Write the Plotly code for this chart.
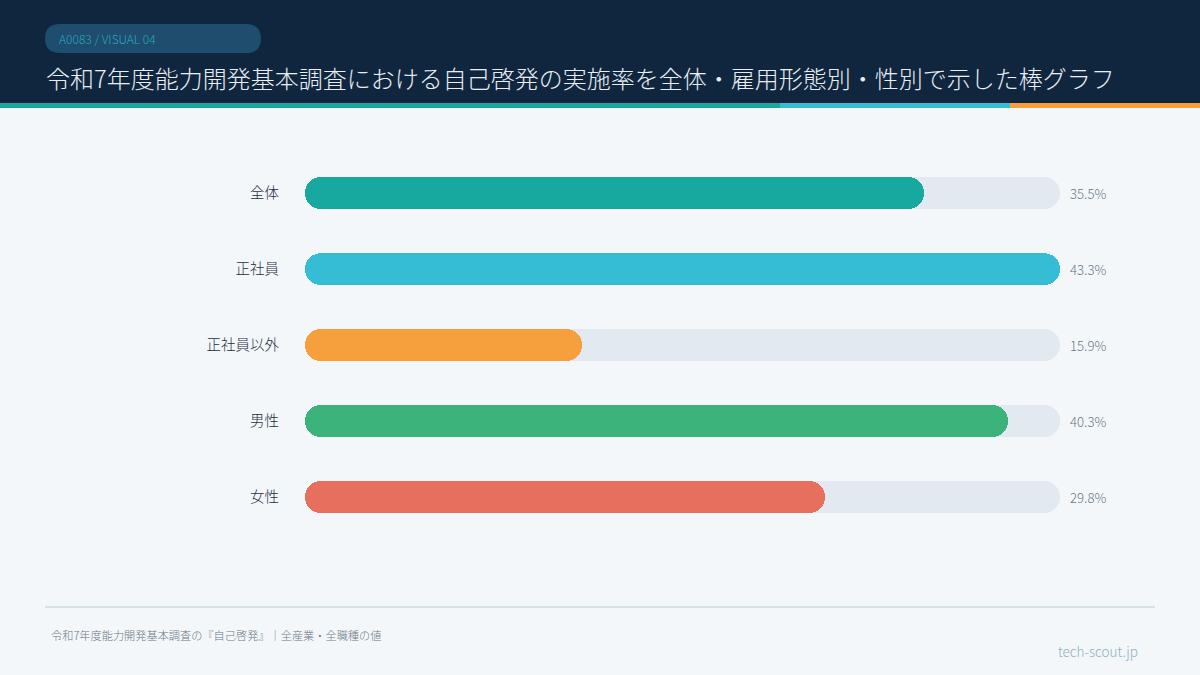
import plotly.graph_objects as go

categories = ["全体", "正社員", "正社員以外", "男性", "女性"]
values = [35.5, 43.3, 15.9, 40.3, 29.8]
bar_colors = ["#17a99f", "#35bdd6", "#f59f3d", "#3cb37b", "#e6705d"]
value_labels = ["35.5%", "43.3%", "15.9%", "40.3%", "29.8%"]

title_text = "令和7年度能力開発基本調査における自己啓発の実施率を全体・雇用形態別・性別で示した棒グラフ"
badge_text = "A0083 / VISUAL 04"
footer_text = "令和7年度能力開発基本調査の『自己啓発』｜全産業・全職種の値"
brand_text = "tech-scout.jp"

W, H = 1200, 675
L, R, T, B = 305, 140, 155, 140
PW, PH = W - L - R, H - T - B
FONT = "Noto Sans CJK JP Light, Noto Sans CJK JP, sans-serif"

def px(x):
    return (x - L) / PW

def py(y):
    return (H - B - y) / PH

vmax = max(values)
bw = 0.41

fig = go.Figure()

def pill(vals, color, name):
    # two overlapping rounded-end bars form a pill with round caps at both ends
    a = [v * 0.3 for v in vals]
    b = [v * 0.7 for v in vals]
    fig.add_trace(go.Bar(y=categories, x=[v - s for v, s in zip(vals, a)], base=a, orientation="h",
                         marker=dict(color=color, cornerradius="50%", line=dict(width=0)),
                         width=bw, hoverinfo="skip", showlegend=False, name=name))
    fig.add_trace(go.Bar(y=categories, x=[-e for e in b], base=b, orientation="h",
                         marker=dict(color=color, cornerradius="50%", line=dict(width=0)),
                         width=bw, hoverinfo="skip", showlegend=False, name=name))

pill([vmax] * len(categories), "#e2e9f0", "track")
pill(values, bar_colors, "value")

shapes = [
    dict(type="rect", xref="paper", yref="paper", x0=px(0), x1=px(W), y0=py(0), y1=py(103),
         fillcolor="#10263f", line=dict(width=0), layer="below"),
    dict(type="rect", xref="paper", yref="paper", x0=px(0), x1=px(780), y0=py(103), y1=py(108),
         fillcolor="#17a99f", line=dict(width=0), layer="below"),
    dict(type="rect", xref="paper", yref="paper", x0=px(780), x1=px(1010), y0=py(103), y1=py(108),
         fillcolor="#35bdd6", line=dict(width=0), layer="below"),
    dict(type="rect", xref="paper", yref="paper", x0=px(1010), x1=px(W), y0=py(103), y1=py(108),
         fillcolor="#f59f3d", line=dict(width=0), layer="below"),
    dict(type="path", xref="paper", yref="paper", layer="below",
         path=(f"M {px(60)} {py(24)} L {px(246)} {py(24)} "
               f"Q {px(261)} {py(24)} {px(261)} {py(38.5)} "
               f"Q {px(261)} {py(53)} {px(246)} {py(53)} "
               f"L {px(60)} {py(53)} "
               f"Q {px(45)} {py(53)} {px(45)} {py(38.5)} "
               f"Q {px(45)} {py(24)} {px(60)} {py(24)} Z"),
         fillcolor="#1e4d6d", line=dict(width=0)),
    dict(type="line", xref="paper", yref="paper", x0=px(45), x1=px(1155), y0=py(607), y1=py(607),
         line=dict(color="#d6e0e7", width=2), layer="below"),
]

annotations = [
    dict(xref="paper", yref="paper", x=px(57), y=py(38.5), text=badge_text, showarrow=False,
         xanchor="left", yanchor="middle", font=dict(family=FONT, size=12, color="#2aa7c1", weight=300)),
    dict(xref="paper", yref="paper", x=px(44), y=py(77), text=title_text, showarrow=False,
         xanchor="left", yanchor="middle", font=dict(family=FONT, size=24, color="#e8eef4", weight=300)),
    dict(xref="paper", yref="paper", x=px(49), y=py(635), text=footer_text, showarrow=False,
         xanchor="left", yanchor="middle", font=dict(family=FONT, size=11.2, color="#6b7785", weight=300)),
    dict(xref="paper", yref="paper", x=px(1140), y=py(651), text=brand_text, showarrow=False,
         xanchor="right", yanchor="middle", font=dict(family=FONT, size=13.5, color="#8fb1c2", weight=300)),
]
for c, lab in zip(categories, value_labels):
    annotations.append(dict(x=vmax, y=c, xref="x", yref="y", text=lab, showarrow=False,
                            xanchor="left", yanchor="middle", xshift=8,
                            font=dict(family=FONT, size=13.2, color="#6b7886", weight=300)))

fig.update_layout(
    width=W, height=H,
    margin=dict(l=L, r=R, t=T, b=B, pad=0),
    paper_bgcolor="#f3f7fa", plot_bgcolor="rgba(0,0,0,0)",
    barmode="overlay", bargap=0,
    shapes=shapes, annotations=annotations,
    xaxis=dict(range=[0, vmax], visible=False, fixedrange=True),
    yaxis=dict(autorange="reversed", showgrid=False, zeroline=False, showline=False,
               ticks="", ticklabelstandoff=25,
               tickfont=dict(family=FONT, size=14.5, color="#1e2f40", weight=300), fixedrange=True),
    showlegend=False,
)

fig.write_html("out.html", config={"displayModeBar": False},
               post_script="document.body.style.margin='0';document.body.style.padding='0';")
